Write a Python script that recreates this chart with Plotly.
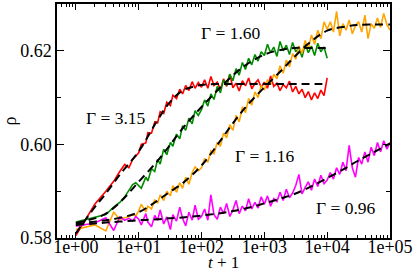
import math
import plotly.graph_objects as go

# time grid (t + 1)
t_dec0 = [1, 2, 3, 4, 5, 6, 7, 8, 9]
t_dec1 = [10, 11, 13, 14, 16, 18, 20, 22, 25, 28, 32, 35, 40, 45, 50, 56, 63, 71, 79, 89]
t_dec2 = [100, 112, 126, 141, 158, 178, 200, 224, 251, 282, 316, 355, 398, 447, 501, 562, 631, 708, 794, 891]
t_dec3 = [1000, 1122, 1259, 1413, 1585, 1778, 1995, 2239, 2512, 2818, 3162, 3548, 3981, 4467, 5012, 5623, 6310, 7079, 7943, 8913]
t_dec4 = [10000, 11220, 12589, 14125, 15849, 17783, 19953, 22387, 25119, 28184, 31623, 35481, 39811, 44668, 50119, 56234, 63096, 70795, 79433, 89125]
t_end4 = [10000]
t_end5 = [100000]

t_short = t_dec0 + t_dec1 + t_dec2 + t_dec3 + t_end4
t_long = t_dec0 + t_dec1 + t_dec2 + t_dec3 + t_dec4 + t_end5

rho_315 = [0.5805, 0.5872, 0.5900, 0.5921, 0.5942, 0.5957, 0.5950, 0.5968, 0.5975,
           0.5982, 0.6000, 0.6003, 0.6025, 0.6024, 0.6048, 0.6046, 0.6070, 0.6066, 0.6090,
           0.6083, 0.6105, 0.6098, 0.6118, 0.6108, 0.6126, 0.6115, 0.6134, 0.6120, 0.6132,
           0.6122, 0.6138, 0.6120, 0.6145, 0.6126, 0.6133, 0.6117, 0.6140, 0.6124, 0.6150,
           0.6121, 0.6131, 0.6114, 0.6136, 0.6125, 0.6142, 0.6119, 0.6130, 0.6138, 0.6122,
           0.6133, 0.6120, 0.6146, 0.6124, 0.6131, 0.6115, 0.6128, 0.6121, 0.6135, 0.6112,
           0.6124, 0.6108, 0.6118, 0.6100, 0.6113, 0.6095, 0.6110, 0.6098, 0.6116, 0.6104,
           0.6142]

rho_160 = [0.5834, 0.5844, 0.5850, 0.5866, 0.5876, 0.5888, 0.5903, 0.5914, 0.5918,
           0.5912, 0.5906, 0.5930, 0.5922, 0.5948, 0.5942, 0.5968, 0.5958, 0.5990, 0.5978,
           0.6004, 0.5996, 0.6022, 0.6012, 0.6040, 0.6030, 0.6056, 0.6044, 0.6072, 0.6062,
           0.6074, 0.6095, 0.6082, 0.6108, 0.6096, 0.6124, 0.6110, 0.6138, 0.6126, 0.6150,
           0.6136, 0.6162, 0.6148, 0.6175, 0.6160, 0.6184, 0.6170, 0.6192, 0.6178, 0.6198,
           0.6190, 0.6214, 0.6196, 0.6208, 0.6188, 0.6220, 0.6200, 0.6212, 0.6192, 0.6218,
           0.6198, 0.6206, 0.6186, 0.6214, 0.6196, 0.6210, 0.6190, 0.6216, 0.6198, 0.6208,
           0.6184]

rho_116 = [0.5818, 0.5828, 0.5815, 0.5855, 0.5840, 0.5843, 0.5846, 0.5850, 0.5847,
           0.5858, 0.5872, 0.5856, 0.5868, 0.5862, 0.5882, 0.5874, 0.5892, 0.5880, 0.5900,
           0.5890, 0.5912, 0.5898, 0.5918, 0.5906, 0.5930, 0.5915, 0.5940, 0.5952, 0.5944,
           0.5950, 0.5970, 0.5962, 0.5986, 0.5980, 0.6004, 0.5996, 0.6024, 0.6014, 0.6042,
           0.6030, 0.6062, 0.6048, 0.6080, 0.6068, 0.6098, 0.6084, 0.6112, 0.6100, 0.6126,
           0.6116, 0.6138, 0.6128, 0.6150, 0.6140, 0.6168, 0.6152, 0.6180, 0.6166, 0.6194,
           0.6182, 0.6210, 0.6194, 0.6222, 0.6204, 0.6234, 0.6214, 0.6244, 0.6226, 0.6262,
           0.6246, 0.6262, 0.6240, 0.6284, 0.6232, 0.6258, 0.6244, 0.6266, 0.6236, 0.6254,
           0.6262, 0.6240, 0.6276, 0.6226, 0.6258, 0.6248, 0.6270, 0.6250, 0.6280, 0.6256,
           0.6244]

rho_096 = [0.5825, 0.5832, 0.5843, 0.5816, 0.5845, 0.5838, 0.5842, 0.5836, 0.5846,
           0.5840, 0.5828, 0.5852, 0.5834, 0.5824, 0.5848, 0.5838, 0.5860, 0.5830, 0.5845,
           0.5818, 0.5850, 0.5836, 0.5866, 0.5842, 0.5826, 0.5855, 0.5838, 0.5870, 0.5840,
           0.5846, 0.5862, 0.5838, 0.5892, 0.5850, 0.5840, 0.5866, 0.5852, 0.5874, 0.5846,
           0.5860, 0.5880, 0.5852, 0.5868, 0.5858, 0.5884, 0.5862, 0.5876, 0.5864, 0.5888,
           0.5872, 0.5890, 0.5868, 0.5884, 0.5878, 0.5898, 0.5880, 0.5904, 0.5886, 0.5896,
           0.5912, 0.5936, 0.5894, 0.5908, 0.5920, 0.5902, 0.5926, 0.5910, 0.5934, 0.5916,
           0.5924, 0.5940, 0.5926, 0.5950, 0.5936, 0.5962, 0.5944, 0.5998, 0.5950, 0.5930,
           0.5972, 0.5958, 0.5984, 0.5962, 0.5994, 0.5976, 0.6004, 0.5984, 0.6008, 0.5990,
           0.6004]

# fitted curves (dashed)
fit_t_short = [1, 2, 3, 5, 10, 20, 30, 50, 100, 200, 300, 500, 1000, 2000, 3000, 5000, 10000]
fit_t_long = [1, 2, 3, 5, 10, 20, 30, 50, 100, 200, 300, 500, 1000, 2000, 3000, 5000, 10000,
              20000, 30000, 50000, 100000]
fit_315 = [0.5810, 0.5866, 0.5895, 0.5935, 0.5985, 0.6052, 0.6087, 0.6115, 0.6127, 0.6129,
           0.6129, 0.6129, 0.6129, 0.6129, 0.6129, 0.6129, 0.6129]
fit_160 = [0.5832, 0.5842, 0.5852, 0.5876, 0.5920, 0.5965, 0.5995, 0.6034, 0.6080, 0.6122,
           0.6145, 0.6169, 0.6192, 0.6203, 0.6206, 0.6206, 0.6206]
fit_116 = [0.5830, 0.5835, 0.5838, 0.5843, 0.5855, 0.5880, 0.5897, 0.5917, 0.5955, 0.6008,
           0.6041, 0.6079, 0.6122, 0.6162, 0.6187, 0.6215, 0.6243, 0.6252, 0.6255, 0.6256, 0.6256]
fit_096 = [0.5828, 0.5831, 0.5833, 0.5835, 0.5838, 0.5840, 0.5842, 0.5844, 0.5848, 0.5853,
           0.5857, 0.5863, 0.5874, 0.5886, 0.5894, 0.5907, 0.5928, 0.5950, 0.5964, 0.5980, 0.6002]

x_tickvals = [1, 10, 100, 1000, 10000, 100000]
x_ticktext = ["1e+00", "1e+01", "1e+02", "1e+03", "1e+04", "1e+05"]
y_tickvals = [0.58, 0.60, 0.62]
y_ticktext = ["0.58", "0.60", "0.62"]

labels = ["Γ = 3.15", "Γ = 1.60", "Γ = 1.16", "Γ = 0.96"]
label_x = [4.4, 300, 1040, 20000]
label_y = [0.6056, 0.6237, 0.5976, 0.5865]

FONT = "Liberation Serif"

fig = go.Figure()
series = [(t_short, rho_315, "#ff0000"), (t_short, rho_160, "#008c00"),
          (t_long, rho_116, "#ffa500"), (t_long, rho_096, "#ff00ff")]
for tx, ry, col in series:
    fig.add_trace(go.Scatter(x=tx, y=ry, mode="lines",
                             line=dict(color=col, width=1.6), showlegend=False))
fits = [(fit_t_short, fit_315), (fit_t_short, fit_160), (fit_t_long, fit_116), (fit_t_long, fit_096)]
for tx, fy in fits:
    fig.add_trace(go.Scatter(x=tx, y=fy, mode="lines",
                             line=dict(color="black", width=2, dash="8px,5px", shape="spline"),
                             showlegend=False))

for txt, lx, ly in zip(labels, label_x, label_y):
    fig.add_annotation(x=math.log10(lx), y=ly, text=txt, showarrow=False,
                       xref="x", yref="y", font=dict(family=FONT, size=17.5, color="black"))

# x-axis title as annotation for precise placement
fig.add_annotation(x=0.5, y=-0.104, xref="paper", yref="paper", yanchor="middle",
                   text="<i>t</i> + 1", showarrow=False,
                   font=dict(family=FONT, size=17, color="black"))

fig.update_layout(
    width=415, height=272,
    margin=dict(l=53, r=24, t=2, b=34),
    paper_bgcolor="white", plot_bgcolor="white",
    font=dict(family=FONT, size=18, color="black"),
    showlegend=False,
)
fig.update_xaxes(
    type="log", range=[-0.3, 5.0],
    tickvals=x_tickvals, ticktext=x_ticktext,
    ticks="inside", ticklen=6, tickwidth=1, tickcolor="black",
    minor=dict(ticks="inside", ticklen=3, tickwidth=1, tickcolor="black", dtick="D1", showgrid=False),
    showline=True, linecolor="black", linewidth=1.5, mirror="allticks",
    showgrid=False, zeroline=False,
    tickfont=dict(family=FONT, size=18),
    ticklabelstandoff=-8,
)
fig.update_yaxes(
    range=[0.58, 0.63],
    tickvals=y_tickvals, ticktext=y_ticktext,
    ticks="inside", ticklen=7, tickwidth=1, tickcolor="black",
    minor=dict(ticks="inside", ticklen=4, tickwidth=1, tickcolor="black", tickvals=[0.59, 0.61], showgrid=False),
    showline=True, linecolor="black", linewidth=1.5, mirror="allticks",
    showgrid=False, zeroline=False,
    tickfont=dict(family=FONT, size=18),
    title=dict(text="ρ", standoff=6, font=dict(family=FONT, size=18)),
)

fig.write_html("out.html", config={"displayModeBar": False},
               post_script="document.body.style.margin='0px';")
